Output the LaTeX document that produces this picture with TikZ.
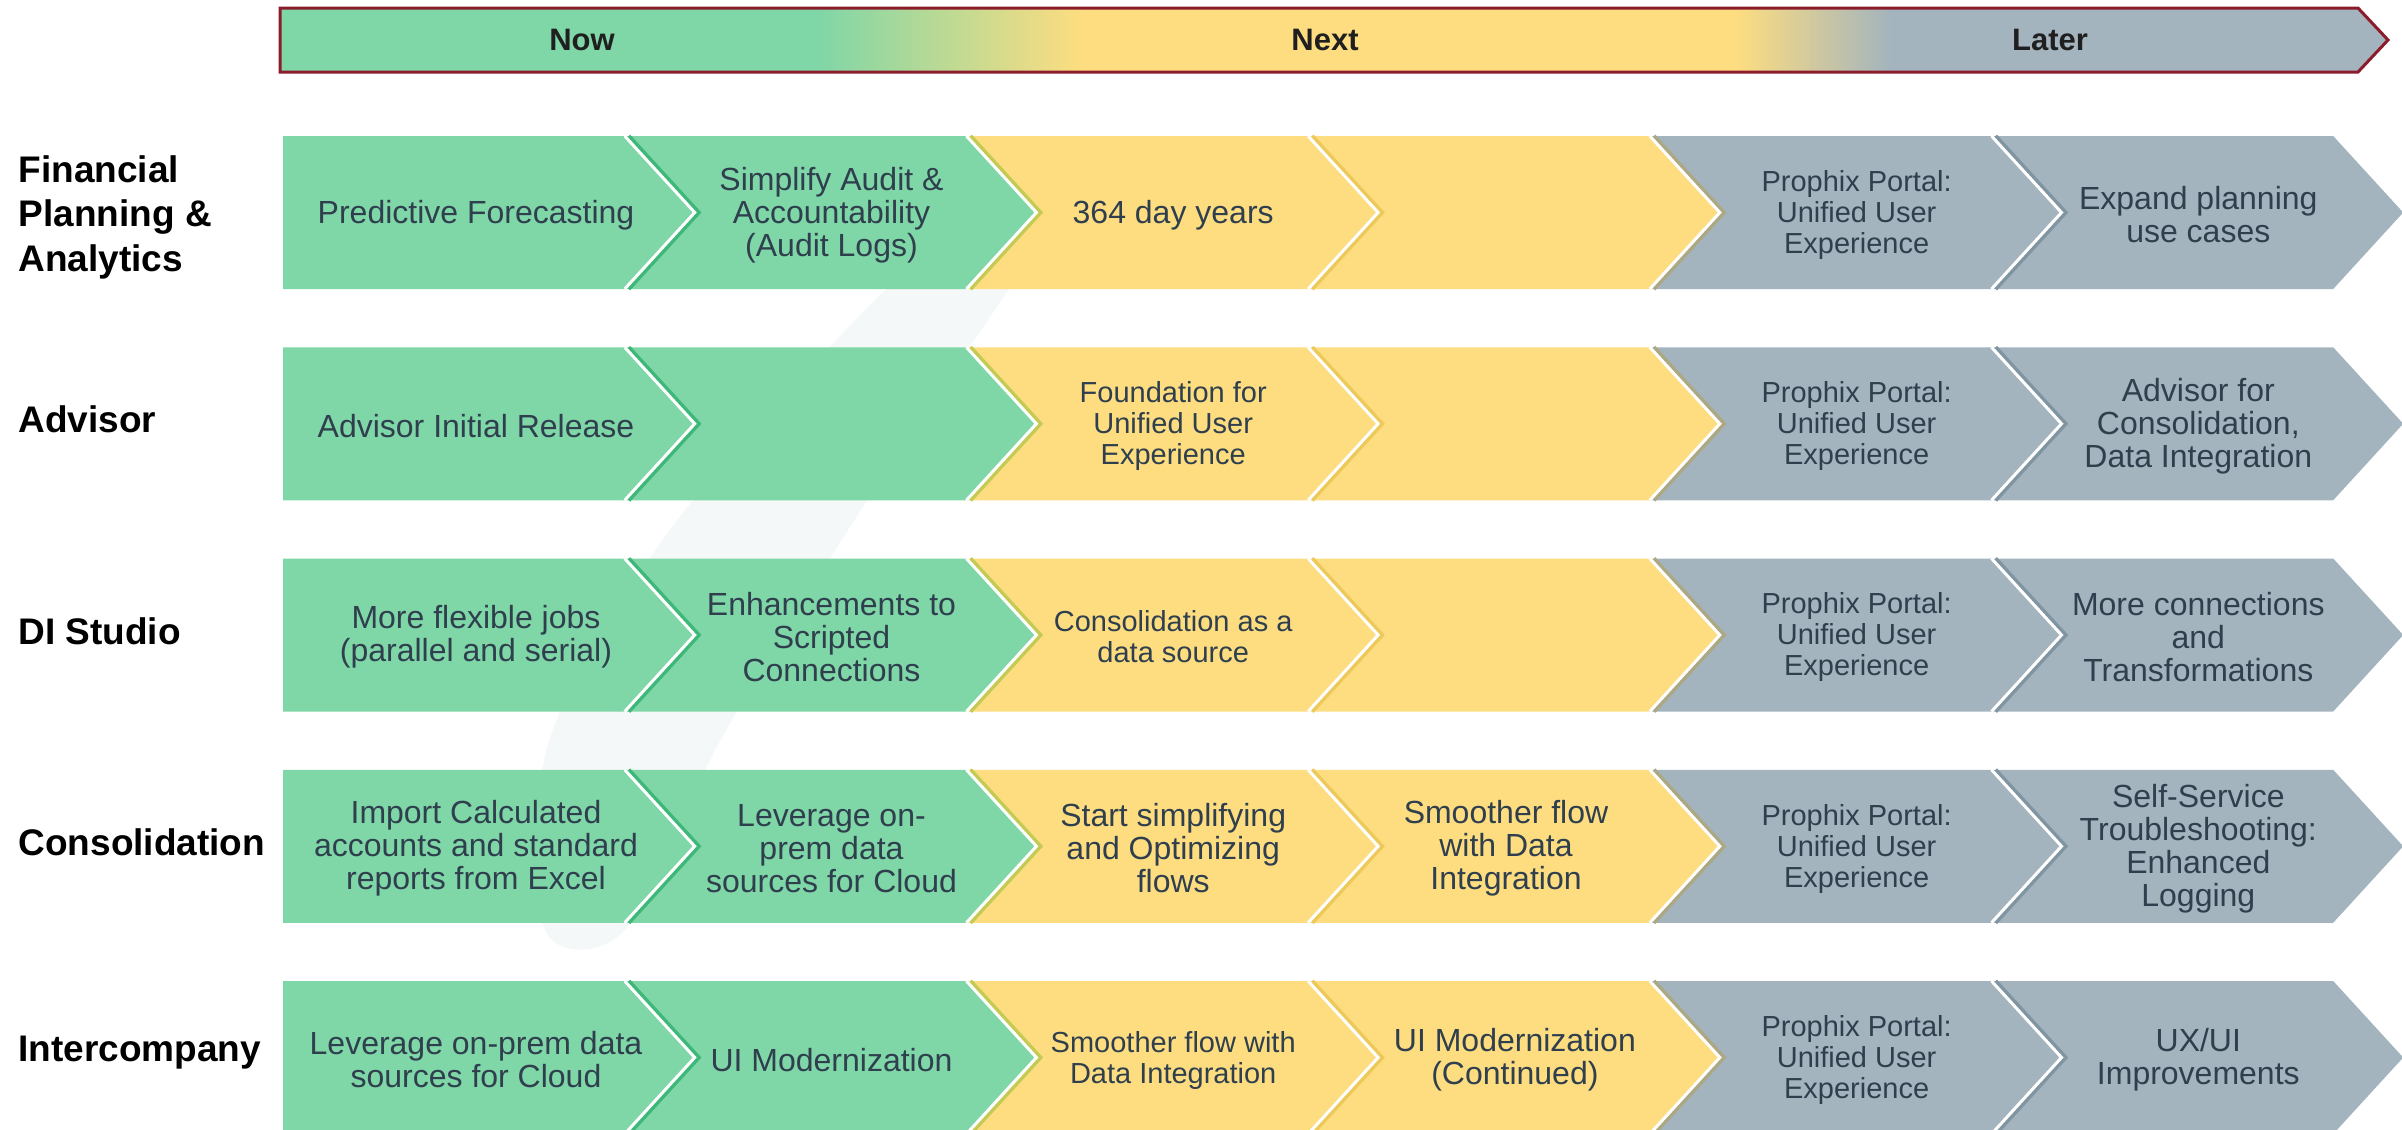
\documentclass[tikz,border=0pt]{standalone}
\usepackage{fontspec}
\setmainfont{Liberation Sans}
\usepackage{tikz}
\usetikzlibrary{positioning}

\definecolor{nowgreen}{HTML}{7FD6A7}
\definecolor{nextyellow}{HTML}{FDDD80}
\definecolor{latergray}{HTML}{A3B4BE}
\definecolor{ink}{HTML}{2F3F4E}
\definecolor{bannerred}{HTML}{8B1C2C}
\definecolor{wmark}{HTML}{F5F8F8}
\definecolor{shgreen}{HTML}{3DB878}
\definecolor{shgy}{HTML}{C3CB55}
\definecolor{shyellow}{HTML}{EDC95A}
\definecolor{shyg}{HTML}{ABA883}
\definecolor{shgray}{HTML}{7F95A2}

\begin{document}
\begin{tikzpicture}[x=1pt, y=-1pt,
        phase/.style={font=\bfseries\fontsize{31}{31}\selectfont, text=black!88},
        rowlbl/.style={anchor=west, align=left, font=\bfseries\fontsize{37}{44.5}\selectfont},
        chevtext/.style={align=center, text=ink, inner sep=0pt, font=\fontsize{32}{33}\selectfont},
        chevsmall/.style={chevtext, font=\fontsize{29}{31}\selectfont},
        notchline/.style={draw=white, line width=3pt}
    ]
    \useasboundingbox (0,0) rectangle (2402,1130);

    % faint watermark behind the rows
    \fill[wmark] plot[smooth cycle] coordinates {(1030,262) (1005,295) (850,527) (720,741) (625,930) (545,930) (549,741) (672,527) (880,295) (940,262)};

    % timeline banner
    \begin{scope}
        \clip (280,8) -- (2358,8) -- (2388,40) -- (2358,72) -- (280,72) -- cycle;
        \fill[nowgreen] (280,8) rectangle (818,72);
        \shade[left color=nowgreen, right color=nextyellow] (817,8) rectangle (1081,72);
        \fill[nextyellow] (1080,8) rectangle (1737,72);
        \shade[left color=nextyellow, right color=latergray] (1736,8) rectangle (1891,72);
        \fill[latergray] (1890,8) rectangle (2390,72);
    \end{scope}
    \draw[bannerred, line width=3pt] (280,8) -- (2358,8) -- (2388,40) -- (2358,72) -- (280,72) -- cycle;
    \node[phase] (now) at (582,40) {Now};
    \node[phase] (next) at (1325,40) {Next};
    \node[phase] (later) at (2050,40) {Later};

    % chevron rows
    \foreach \r in {0,...,4} {
        \pgfmathsetmacro\T{136+211.25*\r}
        \foreach \c/\col in {0/nowgreen,1/nowgreen,2/nextyellow,3/nextyellow,4/latergray,5/latergray} {
            \pgfmathsetmacro\xa{283+341.7*\c}
            \pgfmathsetmacro\xb{\xa+341.7}
            \ifnum\c=0
                \fill[\col] (\xa,\T) -- (\xb,\T) -- (\xb+70,\T+76.5) -- (\xb,\T+153) -- (\xa,\T+153) -- cycle;
            \else
                \fill[\col] (\xa,\T) -- (\xb,\T) -- (\xb+70,\T+76.5) -- (\xb,\T+153) -- (\xa,\T+153) -- (\xa+70,\T+76.5) -- cycle;
            \fi
        }
        \foreach \c/\sh in {1/shgreen,2/shgy,3/shyellow,4/shyg,5/shgray} {
            \pgfmathsetmacro\xa{283+341.7*\c}
            \draw[\sh, line width=4pt] (\xa+4,\T) -- (\xa+74,\T+76.5) -- (\xa+4,\T+153);
            \draw[notchline] (\xa,\T) -- (\xa+70,\T+76.5) -- (\xa,\T+153);
        }
    }

    % row labels
    \node[rowlbl] (fpa) at (15,217) {Financial\\Planning \&\\Analytics};
    \node[rowlbl] (adv) at (15,419) {Advisor};
    \node[rowlbl] (dis) at (15,631) {DI Studio};
    \node[rowlbl] (con) at (15,842) {Consolidation};
    \node[rowlbl] (ico) at (15,1053) {Intercompany};

    % Financial Planning & Analytics
    \node[chevtext] (fpa1) at (476,215) {Predictive Forecasting};
    \node[chevtext] (fpa2) at (831.5,215) {Simplify Audit \&\\Accountability\\(Audit Logs)};
    \node[chevtext] (fpa3) at (1173.2,215) {364 day years};
    \node[chevsmall] (fpa5) at (1856.6,215) {Prophix Portal:\\Unified User\\Experience};
    \node[chevtext] (fpa6) at (2198.3,215) {Expand planning\\use cases};

    % Advisor
    \node[chevtext] (adv1) at (476,426) {Advisor Initial Release};
    \node[chevsmall] (adv3) at (1173.2,426) {Foundation for\\Unified User\\Experience};
    \node[chevsmall] (adv5) at (1856.6,426) {Prophix Portal:\\Unified User\\Experience};
    \node[chevtext] (adv6) at (2198.3,426) {Advisor for\\Consolidation,\\Data Integration};

    % DI Studio
    \node[chevtext] (dis1) at (476,637) {More flexible jobs\\(parallel and serial)};
    \node[chevtext] (dis2) at (831.5,637) {Enhancements to\\Scripted\\Connections};
    \node[chevsmall] (dis3) at (1173.2,637) {Consolidation as a\\data source};
    \node[chevsmall] (dis5) at (1856.6,637) {Prophix Portal:\\Unified User\\Experience};
    \node[chevtext] (dis6) at (2198.3,637) {More connections\\and\\Transformations};

    % Consolidation
    \node[chevtext] (con1) at (476,848.5) {Import Calculated\\accounts and standard\\reports from Excel};
    \node[chevtext] (con2) at (831.5,848.5) {Leverage on-\\prem data\\sources for Cloud};
    \node[chevtext] (con3) at (1173.2,848.5) {Start simplifying\\and Optimizing\\flows};
    \node[chevtext] (con4) at (1506,848.5) {Smoother flow\\with Data\\Integration};
    \node[chevsmall] (con5) at (1856.6,848.5) {Prophix Portal:\\Unified User\\Experience};
    \node[chevtext] (con6) at (2198.3,848.5) {Self-Service\\Troubleshooting:\\Enhanced\\Logging};

    % Intercompany
    \node[chevtext] (ico1) at (476,1060) {Leverage on-prem data\\sources for Cloud};
    \node[chevtext] (ico2) at (831.5,1060) {UI Modernization};
    \node[chevsmall] (ico3) at (1173.2,1060) {Smoother flow with\\Data Integration};
    \node[chevtext] (ico4) at (1514.9,1060) {UI Modernization\\(Continued)};
    \node[chevsmall] (ico5) at (1856.6,1060) {Prophix Portal:\\Unified User\\Experience};
    \node[chevtext] (ico6) at (2198.3,1060) {UX/UI\\Improvements};
\end{tikzpicture}
\end{document}
